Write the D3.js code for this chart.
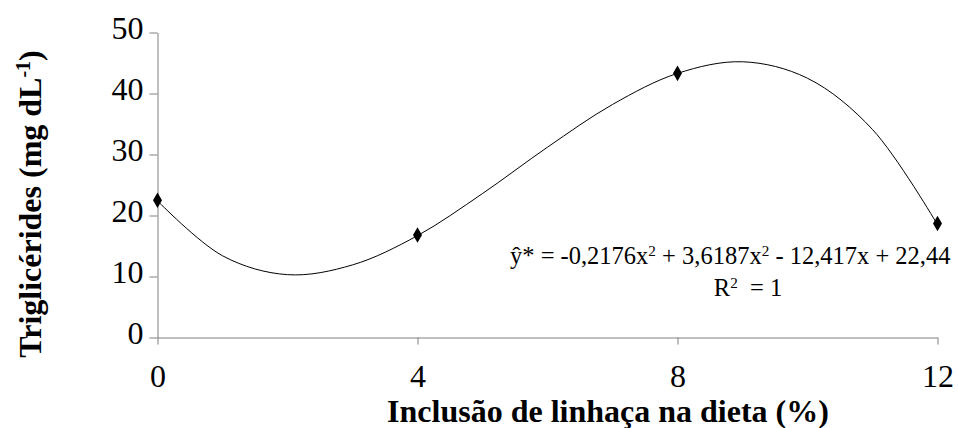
<!DOCTYPE html>
<html>
<head>
<meta charset="utf-8">
<script src="https://cdn.jsdelivr.net/npm/d3@7"></script>
<style>
  body { margin: 0; background: #fff; }
  svg text { font-family: "Liberation Serif", "Times New Roman", serif; fill: #000; }
</style>
</head>
<body>
<div id="chart"></div>
<script>
// chart data
var doses = [0, 4, 8, 12];
var trig = [22.5, 16.8, 43.3, 18.7];

// fitted curve
var trendX = [0, 1, 2, 3, 4, 5, 6, 7, 8, 9, 10, 11, 12];
var trendY = [22.4, 13.4, 10.3, 11.9, 16.7, 23.6, 31.2, 38.2, 43.3, 45.2, 42.5, 34.1, 18.5];

var xTicks = [0, 4, 8, 12];
var yTicks = [0, 10, 20, 30, 40, 50];

var xTitle = "Inclusão de linhaça na dieta (%)";
var eqParts = [["ŷ* = -0,2176x", 0], ["2", 1], [" + 3,6187x", 0], ["2", 1], [" - 12,417x + 22,44", 0]];
var r2Parts = [["R", 0], ["2", 1], ["  = 1", 0]];

var W = 958, H = 428;
var serif = '"Liberation Serif", "Times New Roman", serif';

var svg = d3.select("#chart").append("svg")
    .attr("width", W)
    .attr("height", H);

var x = d3.scaleLinear().domain([0, 12]).range([157.5, 937.5]);
var y = d3.scaleLinear().domain([0, 50]).range([337.5, 32.5]);

// axes
var yAxis = svg.append("g")
    .attr("transform", "translate(157.5,0)")
    .call(d3.axisLeft(y).tickValues(yTicks).tickSize(8).tickSizeOuter(0).tickPadding(6));

var xAxis = svg.append("g")
    .attr("transform", "translate(0,337.5)")
    .call(d3.axisBottom(x).tickValues(xTicks).tickSize(7).tickSizeOuter(0).tickPadding(20));

svg.selectAll("g").attr("font-family", serif);
svg.selectAll(".domain, .tick line").attr("stroke", "#808080");
svg.selectAll(".tick text")
    .attr("font-size", 32)
    .style("font-family", serif);
yAxis.selectAll(".tick text").attr("dy", "0.2em");

// trend curve
var line = d3.line()
    .x(function(d, i) { return x(trendX[i]); })
    .y(function(d) { return y(d); })
    .curve(d3.curveCatmullRom.alpha(0.5));

svg.append("path")
    .datum(trendY)
    .attr("d", line)
    .attr("fill", "none")
    .attr("stroke", "#000")
    .attr("stroke-width", 1);

// markers
svg.selectAll(".pt")
    .data(trig)
  .enter().append("path")
    .attr("class", "pt")
    .attr("d", d3.symbol().type(d3.symbolDiamond).size(70))
    .attr("transform", function(d, i) { return "translate(" + x(doses[i]) + "," + y(d) + ")"; })
    .attr("fill", "#000");

// equation
function richText(parts, tx, ty, size, anchor) {
  var t = svg.append("text")
      .attr("x", tx)
      .attr("y", ty)
      .attr("font-size", size)
      .attr("text-anchor", anchor)
      .style("font-family", serif)
      .style("white-space", "pre");
  parts.forEach(function(p) {
    t.append("tspan")
      .attr("font-size", p[1] ? size * 0.62 : size)
      .attr("baseline-shift", p[1] ? "super" : null)
      .text(p[0]);
  });
  return t;
}

richText(eqParts, 510, 264, 24.5, "start");
richText(r2Parts, 748, 296, 24.5, "middle");

// axis titles
svg.append("text")
    .attr("x", 608)
    .attr("y", 422)
    .attr("text-anchor", "middle")
    .attr("font-size", 32)
    .attr("font-weight", "bold")
    .style("font-family", serif)
    .text(xTitle);

var yt = svg.append("text")
    .attr("transform", "translate(41,204) rotate(-90)")
    .attr("text-anchor", "middle")
    .attr("font-size", 32)
    .attr("font-weight", "bold")
    .style("font-family", serif);
yt.append("tspan").text("Triglicérides (mg dL");
yt.append("tspan").attr("font-size", 20).attr("baseline-shift", "super").text("-1");
yt.append("tspan").text(")");
</script>
</body>
</html>
